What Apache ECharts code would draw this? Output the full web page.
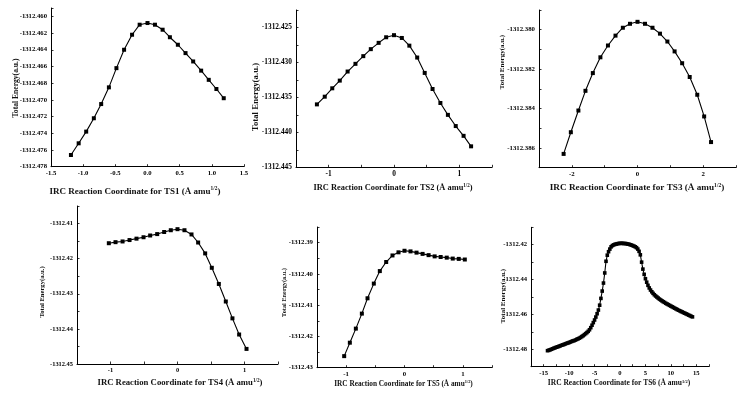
<!DOCTYPE html>
<html><head><meta charset="utf-8">
<script src="https://cdn.jsdelivr.net/npm/echarts@6/dist/echarts.min.js"></script>
<style>html,body{margin:0;padding:0;background:#fff}#c{width:753px;height:396px}</style>
</head><body><div id="c"></div>
<script>
// ---- data ----
const ts1X = [-1.19,-1.07,-0.953,-0.834,-0.72,-0.60,-0.483,-0.364,-0.24,-0.122,0,0.116,0.235,0.348,0.472,0.591,0.71,0.834,0.952,1.071,1.185];
const ts1E = [-1312.4766,-1312.4752,-1312.4738,-1312.4722,-1312.4705,-1312.4685,-1312.4662,-1312.4640,-1312.4622,-1312.4610,-1312.4608,-1312.4610,-1312.4616,-1312.4625,-1312.4634,-1312.4644,-1312.4654,-1312.4665,-1312.4676,-1312.4687,-1312.4698];

const ts2X = [-1.18,-1.06,-0.945,-0.83,-0.71,-0.59,-0.47,-0.355,-0.235,-0.12,0,0.12,0.235,0.355,0.47,0.59,0.71,0.825,0.945,1.065,1.18];
const ts2E = [-1312.4360,-1312.4349,-1312.4337,-1312.4326,-1312.4313,-1312.4302,-1312.4291,-1312.4281,-1312.4272,-1312.4264,-1312.4261,-1312.4265,-1312.4276,-1312.4293,-1312.4315,-1312.4338,-1312.4358,-1312.4375,-1312.4391,-1312.4405,-1312.4420];

const ts3X = [-2.25,-2.03,-1.80,-1.585,-1.36,-1.13,-0.9,-0.67,-0.446,-0.228,0,0.228,0.456,0.684,0.91,1.13,1.36,1.59,1.82,2.03,2.24];
const ts3E = [-1312.3863,-1312.3852,-1312.3841,-1312.3831,-1312.3822,-1312.3814,-1312.3808,-1312.3803,-1312.3799,-1312.3797,-1312.3796,-1312.3797,-1312.3799,-1312.3802,-1312.3806,-1312.3811,-1312.3817,-1312.3824,-1312.3833,-1312.3844,-1312.3857];

const ts4X = [-1.025,-0.925,-0.82,-0.716,-0.612,-0.507,-0.408,-0.303,-0.199,-0.1,0,0.104,0.209,0.308,0.413,0.512,0.617,0.721,0.82,0.92,1.03];
const ts4E = [-1312.4156,-1312.4153,-1312.4151,-1312.4147,-1312.4143,-1312.4139,-1312.4134,-1312.4130,-1312.4124,-1312.4119,-1312.4116,-1312.4119,-1312.4131,-1312.4154,-1312.4185,-1312.4226,-1312.4272,-1312.4322,-1312.4370,-1312.4416,-1312.4457];

const ts5X = [-1.034,-0.937,-0.834,-0.731,-0.634,-0.526,-0.423,-0.314,-0.206,-0.103,0,0.103,0.206,0.31,0.413,0.517,0.62,0.724,0.827,0.93,1.034];
const ts5E = [-1312.4263,-1312.4220,-1312.4175,-1312.4127,-1312.4078,-1312.4031,-1312.3991,-1312.3962,-1312.3941,-1312.3931,-1312.3926,-1312.3928,-1312.3932,-1312.3936,-1312.3940,-1312.3944,-1312.3946,-1312.3948,-1312.3951,-1312.3952,-1312.3954];

const ts6X = [-14.25,-14,-13.75,-13.5,-13.25,-13,-12.75,-12.5,-12.25,-12,-11.75,-11.5,-11.25,-11,-10.75,-10.5,-10.25,-10,-9.75,-9.5,-9.25,-9,-8.75,-8.5,-8.25,-8,-7.75,-7.5,-7.25,-7,-6.75,-6.5,-6.25,-6,-5.75,-5.5,-5.25,-5,-4.75,-4.5,-4.25,-4,-3.75,-3.5,-3.25,-3,-2.75,-2.5,-2.25,-2,-1.75,-1.5,-1.25,-1,-0.75,-0.5,-0.25,0,0.25,0.5,0.75,1,1.25,1.5,1.75,2,2.25,2.5,2.75,3,3.25,3.5,3.75,4,4.25,4.5,4.75,5,5.25,5.5,5.75,6,6.25,6.5,6.75,7,7.25,7.5,7.75,8,8.25,8.5,8.75,9,9.25,9.5,9.75,10,10.25,10.5,10.75,11,11.25,11.5,11.75,12,12.25,12.5,12.75,13,13.25,13.5,13.75,14,14.25];
const ts6E = [-1312.4808,-1312.4806,-1312.4803,-1312.4800,-1312.4797,-1312.4794,-1312.4791,-1312.4788,-1312.4786,-1312.4783,-1312.4780,-1312.4777,-1312.4775,-1312.4772,-1312.4769,-1312.4766,-1312.4764,-1312.4761,-1312.4758,-1312.4755,-1312.4752,-1312.4750,-1312.4747,-1312.4743,-1312.4740,-1312.4736,-1312.4732,-1312.4727,-1312.4722,-1312.4716,-1312.4710,-1312.4704,-1312.4697,-1312.4688,-1312.4676,-1312.4662,-1312.4647,-1312.4632,-1312.4615,-1312.4596,-1312.4575,-1312.4547,-1312.4508,-1312.4466,-1312.4420,-1312.4362,-1312.4295,-1312.4260,-1312.4240,-1312.4225,-1312.4212,-1312.4205,-1312.4201,-1312.4198,-1312.4196,-1312.4194,-1312.4193,-1312.4192,-1312.4192,-1312.4192,-1312.4193,-1312.4193,-1312.4194,-1312.4196,-1312.4197,-1312.4200,-1312.4202,-1312.4205,-1312.4208,-1312.4212,-1312.4217,-1312.4225,-1312.4238,-1312.4258,-1312.4300,-1312.4340,-1312.4370,-1312.4395,-1312.4415,-1312.4433,-1312.4448,-1312.4460,-1312.4470,-1312.4479,-1312.4487,-1312.4494,-1312.4500,-1312.4506,-1312.4512,-1312.4517,-1312.4522,-1312.4527,-1312.4531,-1312.4536,-1312.4540,-1312.4544,-1312.4548,-1312.4552,-1312.4556,-1312.4560,-1312.4564,-1312.4568,-1312.4572,-1312.4576,-1312.4579,-1312.4583,-1312.4586,-1312.4590,-1312.4593,-1312.4597,-1312.4600,-1312.4604,-1312.4607,-1312.4611,-1312.4614];

const tsNames = ['TS1','TS2','TS3','TS4','TS5','TS6'];
const yTitle = 'Total Energy(a.u.)';

// ---- layout (per panel) ----
const FONT = 'Liberation Serif';
const panels = [
  {x: ts1X, y: ts1E, grid:{left:51, top:8, width:193, height:158.7},
   xr:[-1.5,1.5,0.5], xfmt:v=>v.toFixed(1),
   yr:[-1312.478,-1312.459,0.002], yfmt:v=>(Math.round(v*1000)%2===0)?v.toFixed(3):'',
   tf:6.7, sym:4, xt:{x:135,y:192,fs:9}, yt:{x:16,y:88,fs:7.6}},
  {x: ts2X, y: ts2E, grid:{left:296, top:10, width:196, height:157.3},
   xr:[-1.5,1.5,0.5], xfmt:v=>(Math.abs(v-Math.round(v))<1e-6)?String(Math.round(v)):'',
   yr:[-1312.445,-1312.4225,0.0025], yfmt:v=>(Math.round(v*10000)%50===0)?v.toFixed(3):'',
   tf:7.4, sym:4, xt:{x:393,y:188,fs:8.4}, yt:{x:256,y:97,fs:8.8}},
  {x: ts3X, y: ts3E, grid:{left:539, top:10, width:197, height:157.7},
   xr:[-3,3,1], xfmt:v=>(Math.round(v)%2===0)?String(Math.round(v)):'',
   yr:[-1312.387,-1312.379,0.001], yfmt:v=>(Math.round(v*1000)%2===0)?v.toFixed(3):'',
   tf:6.8, sym:4, xt:{x:637,y:188,fs:9.2}, yt:{x:502,y:62,fs:7}},
  {x: ts4X, y: ts4E, grid:{left:77, top:206, width:201, height:158},
   xr:[-1.5,1.5,0.5], xfmt:v=>(Math.abs(v-Math.round(v))<1e-6)?String(Math.round(v)):'',
   yr:[-1312.45,-1312.405,0.005], yfmt:v=>(Math.round(v*1000)%10===0)?v.toFixed(2):'',
   tf:6.4, sym:4, xt:{x:180,y:383,fs:8.7}, yt:{x:42.5,y:292,fs:6.6}},
  {x: ts5X, y: ts5E, grid:{left:317, top:227, width:175, height:140.7},
   xr:[-1.5,1.5,0.5], xfmt:v=>(Math.abs(v-Math.round(v))<1e-6)?String(Math.round(v)):'',
   yr:[-1312.43,-1312.385,0.005], yfmt:v=>(Math.round(v*1000)%10===0)?v.toFixed(2):'',
   tf:6.8, sym:4, xt:{x:403.5,y:384,fs:7.3}, yt:{x:284.5,y:292.5,fs:6.3}},
  {x: ts6X, y: ts6E, grid:{left:531, top:227.3, width:178, height:139.4},
   xr:[-17.5,17.5,2.5], xfmt:v=>(Math.abs(v/5-Math.round(v/5))<1e-6)?String(Math.round(v)):'',
   yr:[-1312.49,-1312.41,0.01], yfmt:v=>(Math.round(v*100)%2===0)?v.toFixed(2):'',
   tf:6.6, sym:3.6, xt:{x:619,y:383.5,fs:7.5}, yt:{x:503,y:296,fs:7}}
];

const grids=[], xAxes=[], yAxes=[], series=[], graphics=[];
panels.forEach((p,i)=>{
  grids.push(Object.assign({outerBoundsMode:'none', containLabel:false}, p.grid));
  const common = {
    gridIndex:i, splitLine:{show:false},
    axisLine:{show:true, onZero:false, lineStyle:{color:'#000', width:1}},
    axisTick:{show:true, inside:true, length:2.5, lineStyle:{color:'#000', width:0.8}},
  };
  xAxes.push(Object.assign({type:'value', min:p.xr[0], max:p.xr[1], interval:p.xr[2],
    axisLabel:{show:true, formatter:p.xfmt, fontFamily:FONT, fontWeight:'bold', fontSize:p.tf, color:'#000', margin:3, showMinLabel:true, showMaxLabel:true, hideOverlap:false}}, common));
  yAxes.push(Object.assign({type:'value', scale:true, min:p.yr[0], max:p.yr[1], interval:p.yr[2],
    axisLabel:{show:true, formatter:p.yfmt, fontFamily:FONT, fontWeight:'bold', fontSize:p.tf, color:'#000', margin:4, showMinLabel:true, showMaxLabel:true, hideOverlap:false}}, common));
  series.push({type:'line', xAxisIndex:i, yAxisIndex:i,
    data:p.x.map((xv,k)=>[xv,p.y[k]]),
    symbol:'rect', symbolSize:p.sym, showSymbol:true,
    itemStyle:{color:'#000'}, lineStyle:{color:'#000', width:1.1}, smooth:false,
    emphasis:{disabled:true}, silent:true, clip:false});
  graphics.push({type:'text', x:p.xt.x, y:p.xt.y, silent:true,
    style:{text:'IRC Reaction Coordinate for '+tsNames[i]+' (Å amu{s|1/2})',
      fill:'#111', font:'bold '+p.xt.fs+'px "'+FONT+'"',
      align:'center', verticalAlign:'middle', textAlign:'center', textVerticalAlign:'middle',
      rich:{s:{fontSize:p.xt.fs*0.6, fontWeight:'bold', fontFamily:FONT, fill:'#111', verticalAlign:'top', lineHeight:p.xt.fs*1.2}}}});
  graphics.push({type:'text', x:p.yt.x, y:p.yt.y, rotation:Math.PI/2, silent:true,
    style:{text:yTitle, fill:'#111', font:'bold '+p.yt.fs+'px "'+FONT+'"',
      align:'center', verticalAlign:'middle', textAlign:'center', textVerticalAlign:'middle'}});
});

const chart = echarts.init(document.getElementById('c'), null, {renderer:'canvas'});
chart.setOption({animation:false, backgroundColor:'#fff',
  grid:grids, xAxis:xAxes, yAxis:yAxes, series:series, graphic:{elements:graphics}});
</script></body></html>
